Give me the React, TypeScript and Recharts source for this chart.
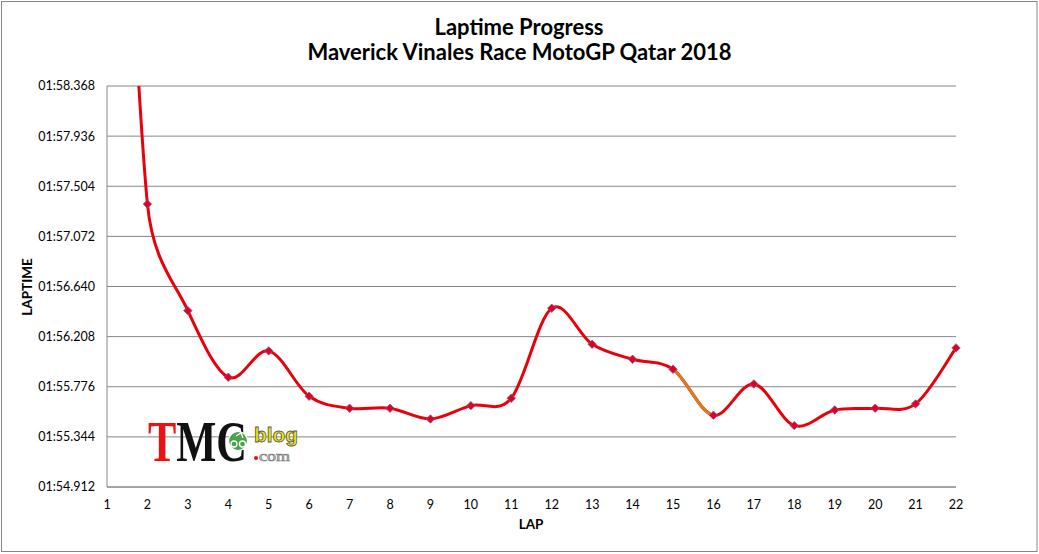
import { LineChart, Line, XAxis, YAxis, CartesianGrid } from "recharts";

// lap times in seconds (1:55.344 -> 115.344)
const laps = [1, 2, 3, 4, 5, 6, 7, 8, 9, 10, 11, 12, 13, 14, 15, 16, 17, 18, 19, 20, 21, 22];
const lapTimes = [
  123.65, 117.35, 116.432, 115.858, 116.085, 115.694, 115.591, 115.591, 115.498, 115.613, 115.677,
  116.453, 116.142, 116.013, 115.927, 115.53, 115.8, 115.441, 115.576, 115.591, 115.628, 116.111,
];
const yTicks = [114.912, 115.344, 115.776, 116.208, 116.64, 117.072, 117.504, 117.936, 118.368];
const orangeSegment = 14; // segment starting at index 14: lap 15 -> lap 16

const data = laps.map((lap, i) => ({ lap, time: lapTimes[i] }));

const W = 1039;
const H = 554;
const FONT = "Lato, 'Open Sans', sans-serif";
const GRID = "#868686";

function fmtLap(v: number) {
  const ms = Math.round(v * 1000);
  const m = Math.floor(ms / 60000);
  const s = (ms % 60000) / 1000;
  return `${String(m).padStart(2, "0")}:${s.toFixed(3).padStart(6, "0")}`;
}

type Pt = [number, number];
const dist = (a: Pt, b: Pt) => Math.hypot(b[0] - a[0], b[1] - a[1]);

// Excel-like "smoothed line": bezier with 1/6 tangents, clamped to half the segment
function excelSmooth(onlySegment?: number) {
  return (ctx: any) => {
    let pts: Pt[] = [];
    return {
      areaStart() {},
      areaEnd() {},
      lineStart() {
        pts = [];
      },
      point(x: number, y: number) {
        pts.push([+x, +y]);
      },
      lineEnd() {
        const n = pts.length;
        if (!n) return;
        const from = onlySegment ?? 0;
        const to = onlySegment !== undefined ? onlySegment + 1 : n - 1;
        ctx.moveTo(pts[from][0], pts[from][1]);
        for (let i = from; i < to; i++) {
          const p0 = pts[Math.max(i - 1, 0)];
          const p1 = pts[i];
          const p2 = pts[i + 1];
          const p3 = pts[Math.min(i + 2, n - 1)];
          const d12 = dist(p1, p2);
          const d02 = dist(p0, p2);
          const d13 = dist(p1, p3);
          const f1 = d02 / 6 < d12 / 2 ? 1 / 6 : d12 / (2 * d02);
          const f2 = d13 / 6 < d12 / 2 ? 1 / 6 : d12 / (2 * d13);
          ctx.bezierCurveTo(
            p1[0] + f1 * (p2[0] - p0[0]), p1[1] + f1 * (p2[1] - p0[1]),
            p2[0] - f2 * (p3[0] - p1[0]), p2[1] - f2 * (p3[1] - p1[1]),
            p2[0], p2[1],
          );
        }
      },
    };
  };
}

const Diamond = (p: any) => {
  const { cx, cy, index } = p;
  if (cx == null || cy == null) return <g key={index} />;
  const r = 4.2;
  return (
    <path
      key={index}
      d={`M${cx},${cy - r}L${cx + r},${cy}L${cx},${cy + r}L${cx - r},${cy}Z`}
      fill="#e4001a"
      stroke="#7b5a9c"
      strokeWidth={0.8}
    />
  );
};

// watermark in the lower left
function Logo() {
  return (
    <g>
      <text
        x={148} y={461} fontFamily="'Liberation Serif', serif" fontSize={56} fontWeight={700}
        textLength={99} lengthAdjust="spacingAndGlyphs"
      >
        <tspan fill="#ee1111">T</tspan>
        <tspan fill="#111">MC</tspan>
      </text>
      <circle cx={238} cy={441} r={9.5} fill="#4aa34a" stroke="#fff" strokeWidth={1.2} />
      <circle cx={234} cy={444} r={3} fill="none" stroke="#fff" strokeWidth={1.3} />
      <circle cx={242.5} cy={444} r={3} fill="none" stroke="#fff" strokeWidth={1.3} />
      <path d="M236,436 L241,433 L243,438" fill="none" stroke="#fff" strokeWidth={1.3} />
      <text
        x={254} y={442} fontFamily="'Liberation Sans', Arial, sans-serif" fontSize={21} fontWeight={700}
        fill="#f2e400" stroke="#555" strokeWidth={0.8} textLength={44} lengthAdjust="spacingAndGlyphs"
      >
        blog
      </text>
      <circle cx={256} cy={458} r={2} fill="#e01010" />
      <text
        x={259} y={461} fontFamily="'Liberation Serif', serif" fontSize={14}
        fill="#d0d0d0" stroke="#777" strokeWidth={0.6} textLength={31} lengthAdjust="spacingAndGlyphs"
      >
        com
      </text>
    </g>
  );
}

export default function App() {
  return (
    <div style={{ position: "absolute", left: 0, top: 0, width: W, height: H, background: "#fff" }}>
      <LineChart width={W} height={H} data={data} margin={{ top: 86, right: 83, bottom: 0, left: 8 }}>
        <CartesianGrid vertical={false} stroke={GRID} strokeWidth={1} />
        <XAxis
          dataKey="lap"
          type="number"
          domain={[1, 22]}
          ticks={laps}
          height={67}
          stroke={GRID}
          tickLine={false}
          tickMargin={7}
          tick={{ fill: "#000", fontSize: 12.5, fontFamily: FONT }}
        />
        <YAxis
          type="number"
          domain={[114.912, 118.368]}
          ticks={yTicks}
          allowDataOverflow
          width={99}
          stroke={GRID}
          tickLine={false}
          tickMargin={6}
          tickFormatter={fmtLap}
          tick={{ fill: "#000", fontSize: 12.5, fontFamily: FONT }}
        />
        <Line
          dataKey="time"
          type={excelSmooth() as any}
          stroke="#e8000b"
          strokeWidth={3}
          dot={false}
          activeDot={false}
          isAnimationActive={false}
        />
        <Line
          dataKey="time"
          type={excelSmooth(orangeSegment) as any}
          stroke="#db7a1f"
          strokeWidth={3}
          dot={false}
          activeDot={false}
          isAnimationActive={false}
        />
        <Line
          dataKey="time"
          type="linear"
          stroke="none"
          dot={Diamond}
          activeDot={false}
          isAnimationActive={false}
        />
      </LineChart>
      <svg width={W} height={H} style={{ position: "absolute", left: 0, top: 0, pointerEvents: "none" }}>
        <rect x={1.5} y={1.5} width={1035.5} height={550} fill="none" stroke={GRID} />
        <text x={519} y={35} textAnchor="middle" fontFamily={FONT} fontWeight={700} fontSize={22}>
          Laptime Progress
        </text>
        <text x={519.5} y={60} textAnchor="middle" fontFamily={FONT} fontWeight={700} fontSize={22}>
          Maverick Vinales Race MotoGP Qatar 2018
        </text>
        <text
          x={32} y={287} transform="rotate(-90 32 287)" textAnchor="middle"
          fontFamily={FONT} fontWeight={700} fontSize={13.5}
        >
          LAPTIME
        </text>
        <text x={531} y={529} textAnchor="middle" fontFamily={FONT} fontWeight={700} fontSize={13.5}>
          LAP
        </text>
        <Logo />
      </svg>
    </div>
  );
}
